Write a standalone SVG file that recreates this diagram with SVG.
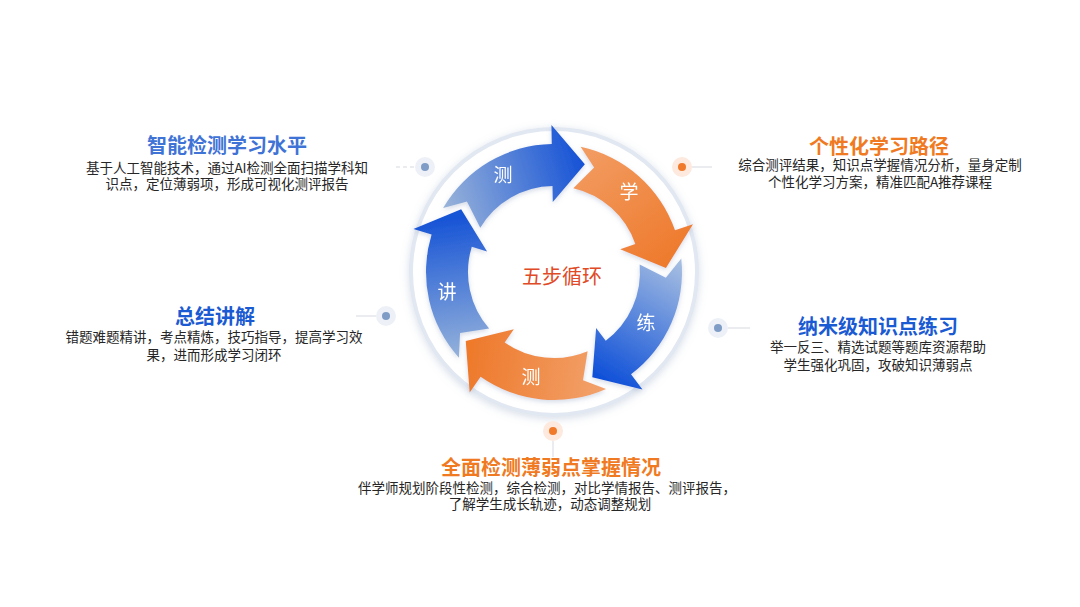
<svg xmlns="http://www.w3.org/2000/svg" width="1080" height="607" viewBox="0 0 1080 607">
<defs>
<style>
.t{font-family:"Noto Sans CJK SC","Noto Sans",sans-serif;text-anchor:middle}
.tb{font-size:20px;font-weight:700;fill:#1a5ad2}
.to{font-size:20px;font-weight:700;fill:#f07a22}
.b{font-size:13.5px;fill:#262626}
.lab{font-family:"Noto Sans CJK SC",sans-serif;font-size:19px;fill:#ffffff;text-anchor:middle}
.halo-b{fill:#edf1f7}
.halo-o{fill:#fde9dd}
.dot-b{fill:#7f9cc6}
.dot-o{fill:#f07a2a}
.ln{stroke:#d5d9df;stroke-width:1;fill:none}
</style>
<filter id="sh" x="-20%" y="-20%" width="140%" height="140%">
<feDropShadow dx="0" dy="2" stdDeviation="4" flood-color="#8c9fbf" flood-opacity="0.35"/>
</filter>
<filter id="ash" x="-20%" y="-20%" width="140%" height="140%">
<feDropShadow dx="0" dy="2" stdDeviation="2.5" flood-color="#6f86ad" flood-opacity="0.3"/>
</filter>
<linearGradient id="g1" gradientUnits="userSpaceOnUse" x1="443" y1="208" x2="585" y2="164">
<stop offset="0" stop-color="#9ab4d9"/><stop offset="1" stop-color="#1552d6"/>
</linearGradient>
<linearGradient id="g2" gradientUnits="userSpaceOnUse" x1="585" y1="150" x2="670" y2="262">
<stop offset="0" stop-color="#f29c62"/><stop offset="1" stop-color="#ee7a2c"/>
</linearGradient>
<linearGradient id="g3" gradientUnits="userSpaceOnUse" x1="681" y1="259" x2="605" y2="385">
<stop offset="0" stop-color="#a9c0e1"/><stop offset="1" stop-color="#0a4dd8"/>
</linearGradient>
<linearGradient id="g4" gradientUnits="userSpaceOnUse" x1="605" y1="385" x2="470" y2="365">
<stop offset="0" stop-color="#f2a26c"/><stop offset="1" stop-color="#ee7a2c"/>
</linearGradient>
<linearGradient id="g5" gradientUnits="userSpaceOnUse" x1="459" y1="358" x2="440" y2="220">
<stop offset="0" stop-color="#95b2da"/><stop offset="1" stop-color="#1855d6"/>
</linearGradient>
</defs>
<rect width="1080" height="607" fill="#ffffff"/>

<g id="ring">
<circle cx="554" cy="272" r="143" fill="#ffffff" stroke="#e2e8f1" stroke-width="4" filter="url(#sh)"/>
</g>

<g id="connectors">
<line class="ln" x1="396" y1="167" x2="414" y2="167" stroke-dasharray="4 3"/>
<line class="ln" x1="692" y1="167" x2="712" y2="167" stroke="#f2cdb4"/>
<line class="ln" x1="356" y1="316" x2="376" y2="316"/>
<line class="ln" x1="728" y1="328" x2="750" y2="328"/>
<line class="ln" x1="553" y1="441" x2="553" y2="457"/>
</g>

<g id="arrows" filter="url(#ash)">
<g id="arrow-ce-top">
<path fill="url(#g1)" d="M443.15,208.00 A128,128 0 0 1 551.77,144.02 L551.43,125.02 L584.87,164.34 L552.78,202.01 L552.50,186.01 A86,86 0 0 0 480.28,227.71 L466.96,201.52 Z"/>
<text class="lab" x="503" y="182">测</text>
</g>
<g id="arrow-xue">
<path fill="url(#g2)" d="M580.61,146.80 A128,128 0 0 1 675.02,230.33 L692.99,224.14 L665.93,268.09 L620.19,249.21 L635.31,244.00 A86,86 0 0 0 573.35,188.20 L594.14,167.44 Z"/>
<text class="lab" x="629" y="199">学</text>
</g>
<g id="arrow-lian">
<path fill="url(#g3)" d="M681.30,258.62 A128,128 0 0 1 631.03,374.22 L642.46,389.39 L592.30,377.25 L596.13,327.90 L605.75,340.68 A86,86 0 0 0 639.67,264.50 L665.85,277.86 Z"/>
<text class="lab" x="646" y="330">练</text>
</g>
<g id="arrow-ce-bottom">
<path fill="url(#g4)" d="M606.06,388.93 A128,128 0 0 1 480.58,376.86 L469.68,392.42 L465.74,340.96 L513.85,329.34 L504.67,342.45 A86,86 0 0 0 587.60,351.16 L582.99,380.18 Z"/>
<text class="lab" x="531" y="384">测</text>
</g>
<g id="arrow-jiang">
<path fill="url(#g5)" d="M458.88,357.65 A128,128 0 0 1 431.59,234.57 L413.42,229.02 L461.15,209.37 L487.06,251.53 L471.76,246.85 A86,86 0 0 0 489.10,328.42 L460.07,333.00 Z"/>
<text class="lab" x="447" y="299">讲</text>
</g>
</g>

<g id="center-label">
<text class="t" x="562" y="284" font-size="20" fill="#e04a26">五步循环</text>
</g>

<g id="dot-tl"><circle class="halo-b" cx="425" cy="167" r="10"/><circle class="dot-b" cx="425" cy="167" r="4"/></g>
<g id="dot-tr"><circle class="halo-o" cx="682" cy="167" r="10"/><circle class="dot-o" cx="682" cy="167" r="4"/></g>
<g id="dot-l"><circle class="halo-b" cx="386" cy="316" r="10"/><circle class="dot-b" cx="386" cy="316" r="4"/></g>
<g id="dot-r"><circle class="halo-b" cx="718" cy="328" r="10"/><circle class="dot-b" cx="718" cy="328" r="4"/></g>
<g id="dot-b"><circle class="halo-o" cx="553" cy="431" r="10"/><circle class="dot-o" cx="553" cy="431" r="4"/></g>

<g id="node-detect-level">
<text class="t tb" x="227" y="153" style="fill:#3f73d6">智能检测学习水平</text>
<text class="t b" x="227" y="173">基于人工智能技术，通过AI检测全面扫描学科知</text>
<text class="t b" x="227" y="189">识点，定位薄弱项，形成可视化测评报告</text>
</g>

<g id="node-path">
<text class="t to" x="879" y="154">个性化学习路径</text>
<text class="t b" x="880" y="170">综合测评结果，知识点学握情况分析，量身定制</text>
<text class="t b" x="880" y="187">个性化学习方案，精准匹配A推荐课程</text>
</g>

<g id="node-summary">
<text class="t tb" x="215" y="324">总结讲解</text>
<text class="t b" x="214" y="342">错题难题精讲，考点精炼，技巧指导，提高学习效</text>
<text class="t b" x="214" y="360">果，进而形成学习闭环</text>
</g>

<g id="node-practice">
<text class="t tb" x="878" y="334">纳米级知识点练习</text>
<text class="t b" x="878" y="352">举一反三、精选试题等题库资源帮助</text>
<text class="t b" x="878" y="370">学生强化巩固，攻破知识薄弱点</text>
</g>

<g id="node-weak">
<text class="t to" x="551" y="475">全面检测薄弱点掌握情况</text>
<text class="t b" x="547" y="493">伴学师规划阶段性检测，综合检测，对比学情报告、测评报告，</text>
<text class="t b" x="550" y="509">了解学生成长轨迹，动态调整规划</text>
</g>
</svg>
